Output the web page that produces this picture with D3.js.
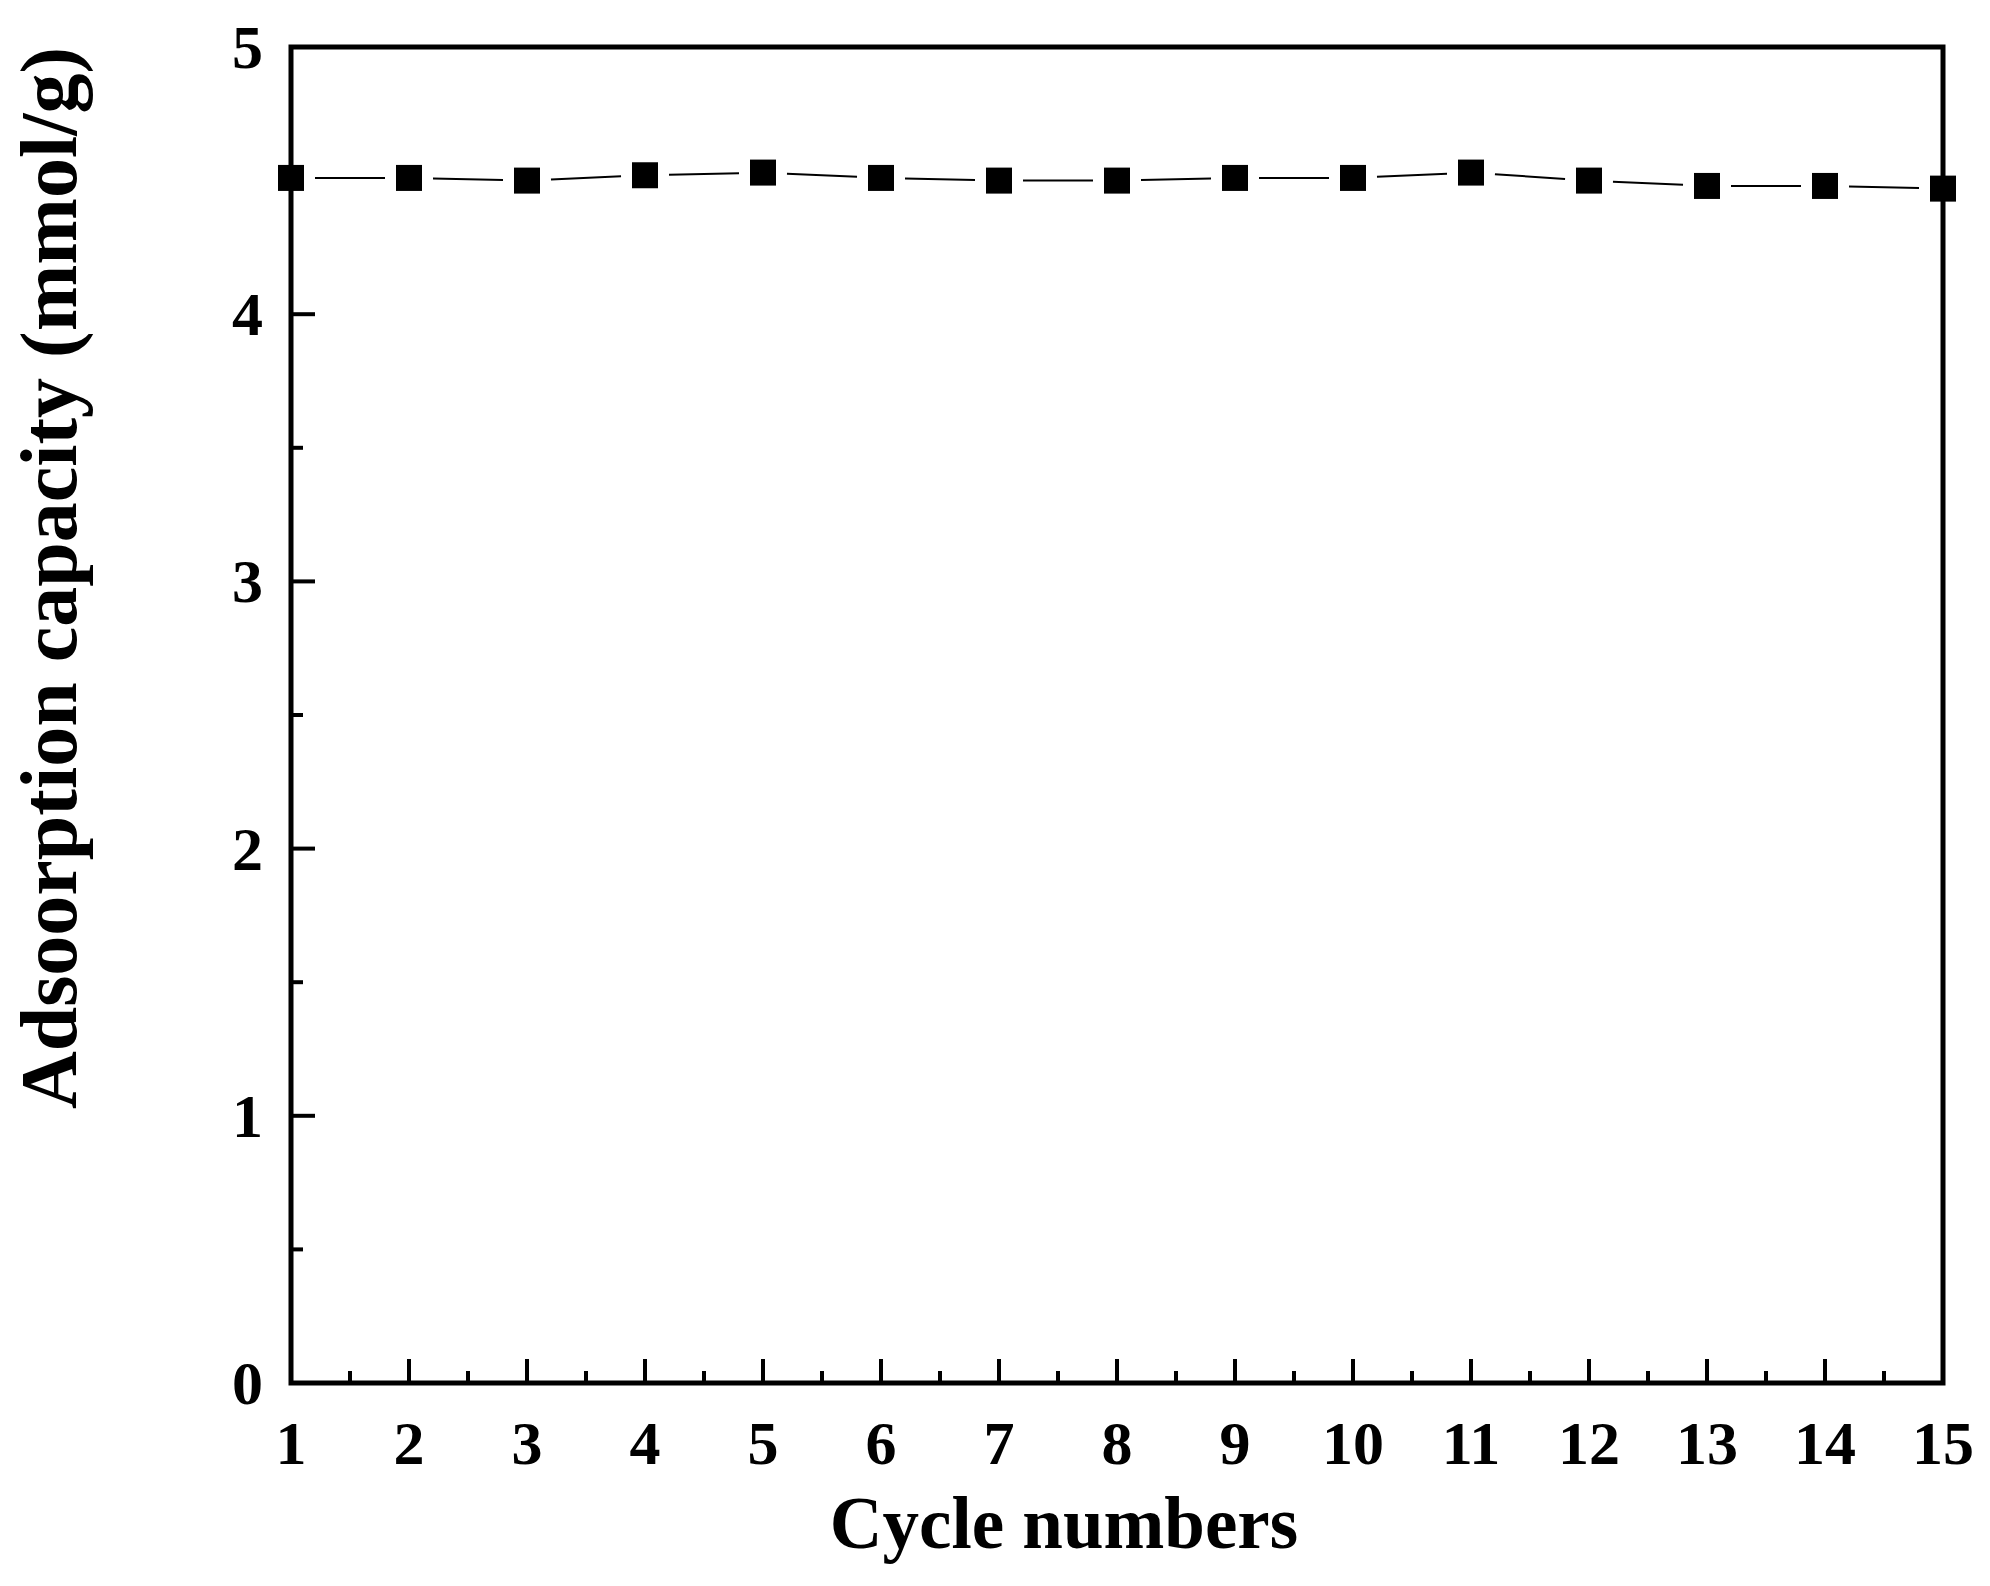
<!DOCTYPE html>
<html><head><meta charset="utf-8">
<script src="https://cdn.jsdelivr.net/npm/d3@7"></script>
<style>body{margin:0;background:#fff}text{font-family:"Liberation Serif","Times New Roman",serif;font-weight:bold;fill:#000}</style>
</head><body><div id="chart"></div>
<script>
var cycles = [1,2,3,4,5,6,7,8,9,10,11,12,13,14,15];
var capacity = [4.51,4.51,4.50,4.52,4.53,4.51,4.50,4.50,4.51,4.51,4.53,4.50,4.48,4.48,4.47];
var yTicks = [0,1,2,3,4,5];

var W = 1990, H = 1586;
var m = {left: 291, right: 1943, top: 47, bottom: 1383};
var svg = d3.select('#chart').append('svg').attr('width', W).attr('height', H);

var x = d3.scaleLinear().domain([1, 15]).range([m.left, m.right]);
var y = d3.scaleLinear().domain([0, 5]).range([m.bottom, m.top]);

// minor/major ticks drawn inward
var g = svg.append('g');
d3.range(1, 15.01, 0.5).forEach(function(v) {
	var major = v % 1 === 0;
	g.append('line').attr('x1', x(v)).attr('x2', x(v))
		.attr('y1', m.bottom).attr('y2', m.bottom - (major ? 24 : 12))
		.attr('stroke', '#000').attr('stroke-width', 4);
});
d3.range(0, 5.01, 0.5).forEach(function(v) {
	var major = v % 1 === 0;
	g.append('line').attr('y1', y(v)).attr('y2', y(v))
		.attr('x1', m.left).attr('x2', m.left + (major ? 24 : 12))
		.attr('stroke', '#000').attr('stroke-width', 4);
});

svg.append('rect').attr('x', m.left).attr('y', m.top)
	.attr('width', m.right - m.left).attr('height', m.bottom - m.top)
	.attr('fill', 'none').attr('stroke', '#000').attr('stroke-width', 5);

svg.selectAll('.xl').data(cycles).enter().append('text')
	.attr('x', function(d) { return x(d); }).attr('y', 1464)
	.attr('text-anchor', 'middle').attr('font-size', 62).text(function(d) { return d; });
svg.selectAll('.yl').data(yTicks).enter().append('text')
	.attr('x', 263).attr('y', function(d) { return y(d) + 21; })
	.attr('text-anchor', 'end').attr('font-size', 62).text(function(d) { return d; });

svg.append('text').attr('x', 1064).attr('y', 1548)
	.attr('text-anchor', 'middle').attr('font-size', 73).text('Cycle numbers');
svg.append('text').attr('transform', 'translate(76,578) rotate(-90)')
	.attr('text-anchor', 'middle').attr('font-size', 80).text('Adsoorption capacity (mmol/g)');

// connecting line with gaps around markers
var pts = cycles.map(function(c, i) { return [x(c), y(capacity[i])]; });
for (var i = 0; i < pts.length - 1; i++) {
	var a = pts[i], b = pts[i + 1];
	var dx = b[0] - a[0], dy = b[1] - a[1], len = Math.sqrt(dx * dx + dy * dy), gap = 24;
	svg.append('line')
		.attr('x1', a[0] + dx * gap / len).attr('y1', a[1] + dy * gap / len)
		.attr('x2', b[0] - dx * gap / len).attr('y2', b[1] - dy * gap / len)
		.attr('stroke', '#000').attr('stroke-width', 2);
}
svg.selectAll('.mk').data(pts).enter().append('rect')
	.attr('x', function(d) { return d[0] - 13; }).attr('y', function(d) { return d[1] - 13; })
	.attr('width', 26).attr('height', 26).attr('fill', '#000');
</script></body></html>
